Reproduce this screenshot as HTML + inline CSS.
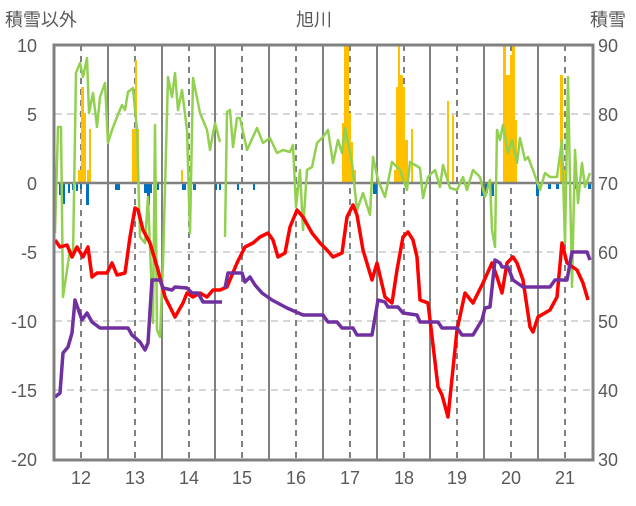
<!DOCTYPE html>
<html><head><meta charset="utf-8"><style>
body{margin:0;background:#fff}
text{font-family:"Liberation Sans","Noto Sans CJK JP",sans-serif;fill:#595959;font-size:18px}
</style></head><body>
<svg width="636" height="501" xmlns="http://www.w3.org/2000/svg">
<text x="5" y="26">積雪以外</text>
<text x="296" y="26">旭川</text>
<text x="590" y="26">積雪</text>
<g text-anchor="end">
<text x="37" y="52">10</text><text x="37" y="121">5</text><text x="37" y="190">0</text>
<text x="37" y="259">-5</text><text x="37" y="328">-10</text><text x="37" y="397">-15</text><text x="37" y="466">-20</text>
</g>
<g>
<text x="598" y="52">90</text><text x="598" y="121">80</text><text x="598" y="190">70</text>
<text x="598" y="259">60</text><text x="598" y="328">50</text><text x="598" y="397">40</text><text x="598" y="466">30</text>
</g>
<g text-anchor="middle">
<text x="81" y="484">12</text><text x="135" y="484">13</text><text x="189" y="484">14</text><text x="242" y="484">15</text><text x="296" y="484">16</text><text x="350" y="484">17</text><text x="404" y="484">18</text><text x="457" y="484">19</text><text x="511" y="484">20</text><text x="565" y="484">21</text>
</g>
<g stroke="#c8c8c8" stroke-width="1.5" stroke-dasharray="7,5">
<line x1="55" y1="114" x2="592" y2="114"/><line x1="55" y1="252" x2="592" y2="252"/><line x1="55" y1="321" x2="592" y2="321"/><line x1="55" y1="390" x2="592" y2="390"/>
</g>
<g stroke="#808080" stroke-width="2">
<line x1="108" y1="45" x2="108" y2="460"/><line x1="162" y1="45" x2="162" y2="460"/><line x1="215" y1="45" x2="215" y2="460"/><line x1="269" y1="45" x2="269" y2="460"/><line x1="323" y1="45" x2="323" y2="460"/><line x1="377" y1="45" x2="377" y2="460"/><line x1="430" y1="45" x2="430" y2="460"/><line x1="484" y1="45" x2="484" y2="460"/><line x1="538" y1="45" x2="538" y2="460"/>
</g>
<g stroke="#808080" stroke-width="2" stroke-dasharray="6,5">
<line x1="81" y1="45" x2="81" y2="460"/><line x1="135" y1="45" x2="135" y2="460"/><line x1="189" y1="45" x2="189" y2="460"/><line x1="242" y1="45" x2="242" y2="460"/><line x1="296" y1="45" x2="296" y2="460"/><line x1="350" y1="45" x2="350" y2="460"/><line x1="404" y1="45" x2="404" y2="460"/><line x1="457" y1="45" x2="457" y2="460"/><line x1="511" y1="45" x2="511" y2="460"/><line x1="565" y1="45" x2="565" y2="460"/>
</g>
<g fill="#ffc000">
<rect x="78" y="170" width="3" height="13"/><rect x="81" y="87" width="3" height="96"/><rect x="84" y="113" width="2" height="70"/><rect x="87" y="170" width="2" height="13"/><rect x="89" y="129" width="2" height="54"/>
<rect x="132" y="129" width="3" height="54"/><rect x="135" y="60" width="2" height="123"/><rect x="137" y="129" width="2" height="54"/>
<rect x="181" y="170" width="2" height="13"/>
<rect x="342" y="123" width="3" height="60"/><rect x="344" y="45" width="5" height="138"/><rect x="349" y="113" width="2" height="70"/><rect x="351" y="142" width="2" height="41"/><rect x="353" y="170" width="3" height="13"/>
<rect x="394" y="170" width="3" height="13"/><rect x="396" y="87" width="2" height="96"/><rect x="398" y="45" width="2" height="138"/><rect x="400" y="75" width="3" height="108"/><rect x="403" y="87" width="2" height="96"/><rect x="405" y="140" width="3" height="43"/><rect x="411" y="129" width="2" height="54"/>
<rect x="447" y="101" width="2" height="82"/><rect x="452" y="115" width="2" height="68"/>
<rect x="503" y="45" width="3" height="138"/><rect x="506" y="75" width="4" height="108"/><rect x="510" y="55" width="2" height="128"/><rect x="512" y="45" width="3" height="138"/><rect x="515" y="120" width="2" height="63"/>
<rect x="560" y="75" width="3" height="108"/><rect x="563" y="170" width="2" height="13"/>
</g>
<g fill="#0070c0">
<rect x="59" y="183" width="2" height="12"/><rect x="63" y="183" width="2" height="21"/><rect x="68" y="183" width="2" height="10"/><rect x="72" y="183" width="2" height="7"/><rect x="76" y="183" width="2" height="8"/><rect x="80" y="183" width="2" height="6"/><rect x="86" y="183" width="3" height="22"/>
<rect x="115" y="183" width="5" height="7"/><rect x="144" y="183" width="8" height="10"/><rect x="147" y="183" width="3" height="22"/><rect x="154" y="183" width="2" height="10"/><rect x="157" y="183" width="2" height="7"/>
<rect x="182" y="183" width="4" height="7"/><rect x="193" y="183" width="3" height="7"/><rect x="215" y="183" width="2" height="7"/><rect x="219" y="183" width="2" height="7"/><rect x="237" y="183" width="2" height="7"/><rect x="253" y="183" width="2" height="7"/>
<rect x="373" y="183" width="4" height="11"/><rect x="481" y="183" width="3" height="13"/><rect x="485" y="183" width="3" height="10"/><rect x="491" y="183" width="3" height="13"/>
<rect x="536" y="183" width="3" height="13"/><rect x="548" y="183" width="3" height="6"/><rect x="556" y="183" width="3" height="6"/><rect x="575" y="183" width="2" height="6"/><rect x="588" y="183" width="3" height="6"/>
</g>
<line x1="55" y1="183" x2="592" y2="183" stroke="#808080" stroke-width="2.5"/>
<g fill="none" stroke-linejoin="round">
<polyline stroke="#92d050" stroke-width="2.5" points="55,233 58,127 61,127 63,297 70,250 73,257 76,73 80,63 83,77 87,58 89,113 93,93 97,127 100,97 105,83 108,143 112,130 117,117 122,105 125,110 128,92 133,88 137,130 140,237 145,243 148,197 153,323 155,125 157,330 160,337 163,263 168,77 172,97 175,73 178,110 182,90 187,130 190,233 193,78 200,113 207,130 210,150 215,123 220,142"/>
<polyline stroke="#92d050" stroke-width="2.5" points="225,237 227,112 230,110 233,147 237,118 240,118 247,150 257,128 263,143 270,138 277,153 283,150 290,152 293,145 296,207 300,170 303,230 307,170 312,167 317,143 323,137 328,130 333,163 338,140 342,153 345,128 352,163 357,210 363,193 370,215 373,157 378,180 385,197 392,162 400,170 407,190 410,162 420,168 423,198 428,177 435,170 440,187 443,165 450,188 457,190 463,177 467,190 473,170 480,177 485,197 490,180 492,230 495,247 497,130 500,140 503,125 508,153 512,140 517,163 520,138 525,160 528,157 533,170 540,190 545,173 550,177 557,177 562,140 565,243 568,77 572,287 575,150 578,203 582,163 585,187 590,173"/>
<polyline stroke="#ff0000" stroke-width="3.5" points="55,240 60,247 67,245 72,257 77,247 83,257 88,247 92,277 97,273 107,273 112,263 117,275 125,273 130,237 135,208 138,210 143,230 150,243 158,270 165,297 175,317 183,303 187,293 193,297 200,293 207,297 213,290 220,290 227,287 237,263 245,247 253,243 260,237 268,233 273,240 278,257 285,253 290,227 297,210 303,217 312,233 320,243 327,250 333,257 342,253 347,217 353,205 357,215 363,250 372,280 377,263 385,297 392,303 397,270 403,237 408,232 413,240 417,257 420,300 428,303 438,387 442,395 448,417 457,330 465,293 473,303 483,283 492,263 497,277 502,293 507,263 513,257 517,263 523,280 530,327 533,332 538,317 550,310 557,297 562,243 567,263 577,270 583,283 588,300"/>
<polyline stroke="#7030a0" stroke-width="3.5" points="55,397 60,393 63,353 68,347 72,333 75,300 82,320 87,313 92,322 100,328 128,328 132,335 140,342 145,350 148,343 152,280 160,280 163,288 172,290 175,287 187,288 192,293 198,293 203,302 222,302"/>
<polyline stroke="#7030a0" stroke-width="3.5" points="225,288 228,273 242,273 245,282 250,277 255,285 262,293 272,300 287,308 303,315 323,315 328,322 337,322 342,328 353,328 357,335 372,335 378,300 385,302 388,307 398,307 403,313 417,315 420,322 438,322 442,328 457,328 460,332 462,335 473,335 482,320 485,308 490,307 495,260 500,263 502,267 508,267 513,280 523,287 550,287 555,280 567,280 572,252 587,252 590,260"/>
</g>
<rect x="54" y="45" width="539" height="415" fill="none" stroke="#808080" stroke-width="3"/>
</svg>
</body></html>
